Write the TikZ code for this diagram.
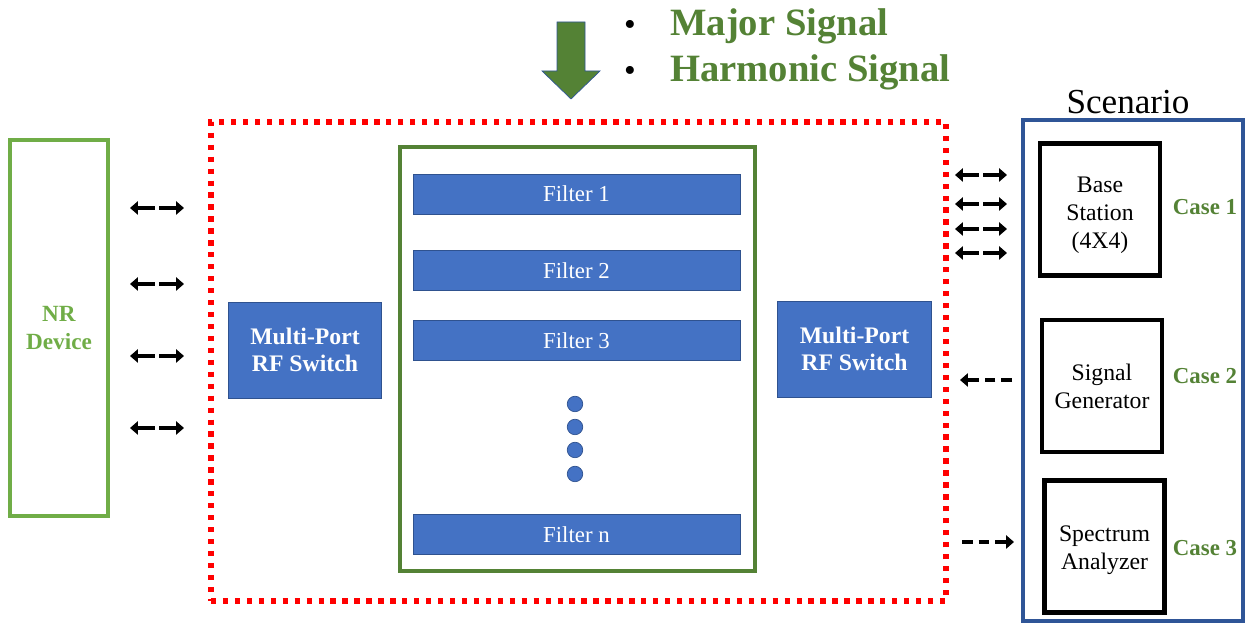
\documentclass[tikz,border=0pt]{standalone}
\usepackage{fontspec}
\setmainfont{Liberation Serif}
\usetikzlibrary{arrows.meta,calc}

\definecolor{nrgreen}{HTML}{70AD47}
\definecolor{darkgreen}{HTML}{548235}
\definecolor{boxblue}{HTML}{4472C4}
\definecolor{edgeblue}{HTML}{2F528F}
\definecolor{scenblue}{HTML}{2F5597}

\tikzset{
  filterbar/.style={draw=edgeblue, fill=boxblue, text=white, minimum width=6.54cm,
    minimum height=0.8cm, font=\fontsize{13}{15}\selectfont},
  switchbox/.style={draw=edgeblue, fill=boxblue, text=white, minimum width=3.07cm,
    minimum height=1.92cm, align=center, font=\bfseries\fontsize{13.5}{15.5}\selectfont},
  casebox/.style={draw=black, line width=2.3pt, minimum width=2.4cm, minimum height=2.64cm},
  casetext/.style={align=center, font=\fontsize{13.5}{16}\selectfont},
  caselabel/.style={text=darkgreen, font=\bfseries\fontsize{13}{15}\selectfont},
  halfarrow/.style={-{Triangle[length=4.5pt,width=7.5pt]}, line width=2.2pt, shorten <=1.4pt},
  dasharrow/.style={-{Triangle[length=4.5pt,width=7.5pt]}, line width=2.2pt,
    dash pattern=on 6pt off 3.5pt},
  fdot/.style={circle, draw=edgeblue, fill=boxblue, minimum size=0.31cm, inner sep=0pt},
  bullettext/.style={anchor=base west, text=darkgreen, font=\bfseries\fontsize{22}{26}\selectfont}
}

\begin{document}
\begin{tikzpicture}

  \useasboundingbox (0,0) rectangle (24.9,12.48);

  % incoming signals
  \draw[draw=scenblue, fill=darkgreen] (11.14,12.04) -- (11.70,12.04) -- (11.70,11.06)
    -- (12.0,11.06) -- (11.42,10.50) -- (10.84,11.06) -- (11.14,11.06) -- cycle;
  \node[anchor=base, font=\fontsize{19}{22}\selectfont] (bul1) at (12.6,11.76) {\textbullet};
  \node[anchor=base, font=\fontsize{19}{22}\selectfont] (bul2) at (12.6,10.84) {\textbullet};
  \node[bullettext] (major) at (13.28,11.76) {Major Signal};
  \node[bullettext] (harm) at (13.28,10.84) {Harmonic Signal};

  % device under test
  \node[draw=nrgreen, line width=1.8pt, minimum width=1.96cm, minimum height=7.52cm,
    align=center, text=nrgreen, font=\bfseries\fontsize{13.2}{16}\selectfont]
    (nr) at (1.18,5.92) {NR\\Device};

  % front end
  \node[draw=red, line width=3pt, dash pattern=on 3pt off 3.8pt, minimum width=14.7cm,
    minimum height=9.58cm] (fe) at (11.57,5.25) {};
  \node[draw=darkgreen, line width=2.8pt, minimum width=7.1cm, minimum height=8.48cm]
    (bank) at (11.55,5.30) {};

  \node[filterbar] (f1) at (11.53,8.60) {Filter 1};
  \node[filterbar] (f2) at (11.53,7.07) {Filter 2};
  \node[filterbar] (f3) at (11.53,5.67) {Filter 3};
  \node[filterbar] (fn) at (11.53,1.79) {Filter n};

  \foreach \y [count=\i] in {4.40,3.94,3.48,3.00}
    \node[fdot] (d\i) at (11.50,\y) {};

  \node[switchbox] (swl) at (6.10,5.48) {Multi-Port\\RF Switch};
  \node[switchbox] (swr) at (17.09,5.50) {Multi-Port\\RF Switch};

  % scenario
  \node[draw=scenblue, line width=1.8pt, minimum width=4.4cm, minimum height=10.02cm]
    (scen) at (22.66,5.07) {};
  \node[font=\fontsize{20}{24}\selectfont] (scentitle) at (22.56,10.44) {Scenario};

  \node[casebox] (bs) at (22.00,8.29) {};
  \node[casetext] (bstext) at (22.00,8.18) {Base\\Station\\(4X4)};
  \node[casebox] (sg) at (22.04,4.76) {};
  \node[casetext] (sgtext) at (22.04,4.76) {Signal\\Generator};
  \node[casebox] (sa) at (22.09,1.55) {};
  \node[casetext] (satext) at (22.09,1.47) {Spectrum\\Analyzer};

  \node[caselabel] (c1) at (24.10,8.34) {Case 1};
  \node[caselabel] (c2) at (24.10,4.96) {Case 2};
  \node[caselabel] (c3) at (24.10,1.52) {Case 3};

  % links
  \foreach \y [count=\i] in {8.32,6.80,5.36,3.92} {
    \coordinate (la\i) at (2.60,\y);
    \coordinate (lm\i) at (3.14,\y);
    \coordinate (lb\i) at (3.68,\y);
    \draw[halfarrow] (lm\i) -- (la\i);
    \draw[halfarrow] (lm\i) -- (lb\i);
  }
  \foreach \y [count=\i] in {8.98,8.40,7.90,7.42} {
    \coordinate (ra\i) at (19.10,\y);
    \coordinate (rm\i) at (19.62,\y);
    \coordinate (rb\i) at (20.14,\y);
    \draw[halfarrow] (rm\i) -- (ra\i);
    \draw[halfarrow] (rm\i) -- (rb\i);
  }

  \coordinate (sgout) at (20.24,4.88);
  \coordinate (sgin) at (19.20,4.88);
  \draw[dasharrow] (sgout) -- (sgin);
  \coordinate (saout) at (19.24,1.64);
  \coordinate (sain) at (20.28,1.64);
  \draw[dasharrow] (saout) -- (sain);

\end{tikzpicture}
\end{document}
